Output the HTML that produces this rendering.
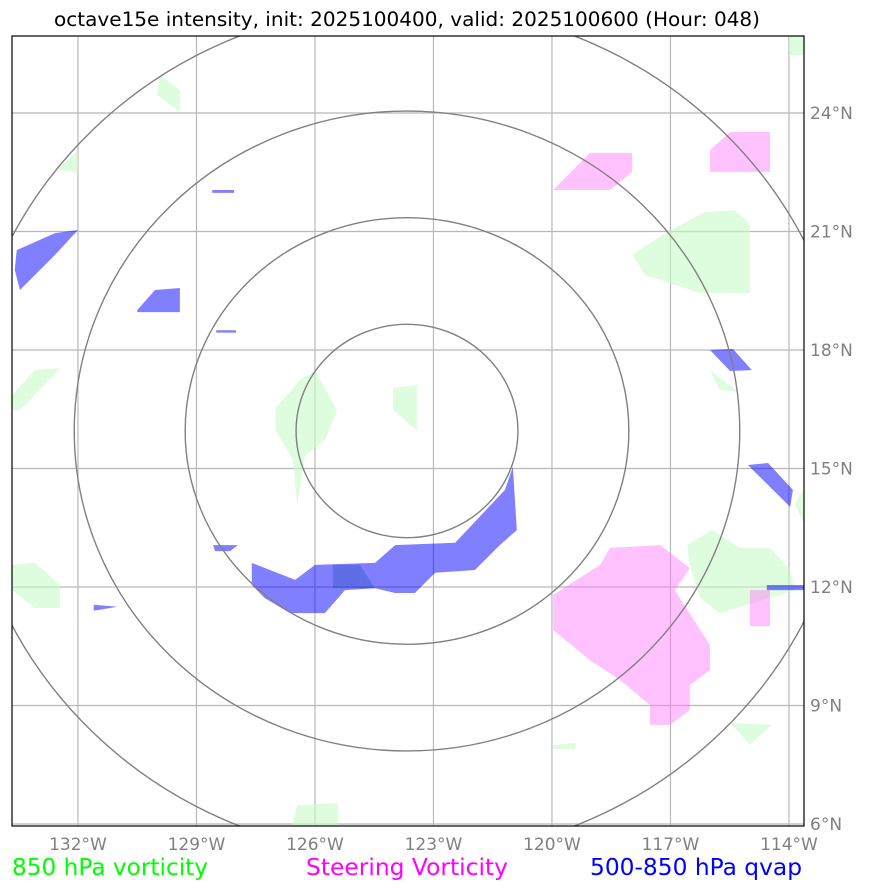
<!DOCTYPE html>
<html><head><meta charset="utf-8"><style>
body{margin:0;background:#fff;width:873px;height:891px;overflow:hidden;font-family:"Liberation Sans","DejaVu Sans",sans-serif}
svg{position:absolute;left:0;top:0}
</style></head><body>
<svg id="chart" width="873" height="891" xmlns="http://www.w3.org/2000/svg">
<text x="407" y="26" text-anchor="middle" font-size="19.5" font-family="DejaVu Sans, sans-serif" textLength="706" lengthAdjust="spacingAndGlyphs">octave15e intensity, init: 2025100400, valid: 2025100600 (Hour: 048)</text>
<defs><clipPath id="plotclip"><rect x="12" y="36" width="792" height="790"/></clipPath></defs>
<g id="grid"></g>
<g id="fields" clip-path="url(#plotclip)"></g>
<g id="rings" clip-path="url(#plotclip)"></g>
<rect x="12" y="36" width="792" height="790" fill="none" stroke="#000" stroke-width="1.2"/>
<g id="ticks"></g>
<text x="12" y="875" font-size="23" fill="#00ff00" font-family="DejaVu Sans, sans-serif" textLength="196" lengthAdjust="spacingAndGlyphs">850 hPa vorticity</text>
<text x="306" y="875" font-size="23" fill="#ff00ff" font-family="DejaVu Sans, sans-serif" textLength="202" lengthAdjust="spacingAndGlyphs">Steering Vorticity</text>
<text x="590" y="875" font-size="23" fill="#0000ff" font-family="DejaVu Sans, sans-serif" textLength="212" lengthAdjust="spacingAndGlyphs">500-850 hPa qvap</text>
</svg>
<script>
const lonTicks=[-132,-129,-126,-123,-120,-117,-114];
const latTicks=[6,9,12,15,18,21,24];
const ringRadii=[2.7,5.4,8.1,10.8];
const ringCenter=[-123.67,15.95];
const green=[
[[-127.0,16.53],[-126.38,17.24],[-126.0,17.49],[-125.44,16.48],[-125.75,15.72],[-126.25,15.34],[-126.45,14.08],[-126.56,15.22],[-127.0,15.97]],
[[-124.02,17.04],[-123.42,17.11],[-123.42,15.97],[-124.02,16.48]],
[[-117.97,20.41],[-117.14,20.96],[-116.13,21.49],[-115.37,21.54],[-114.99,21.17],[-114.99,19.44],[-116.25,19.44],[-117.64,19.9]],
[[-116.58,13.06],[-115.95,13.44],[-115.24,12.99],[-114.48,12.99],[-113.97,12.43],[-113.85,11.92],[-114.48,11.72],[-115.75,11.34],[-116.25,11.72],[-116.51,12.56]],
[[-133.67,16.86],[-133.09,17.49],[-132.45,17.54],[-133.47,16.48],[-133.67,16.48]],
[[-133.67,12.56],[-133.09,12.61],[-132.45,12.05],[-132.45,11.47],[-133.09,11.47],[-133.67,11.92]],
[[-129.92,24.96],[-129.42,24.58],[-129.42,24.03],[-130.0,24.46]],
[[-116.0,17.49],[-115.29,16.94],[-115.75,16.99]],
[[-126.45,6.48],[-125.42,6.53],[-125.42,5.95],[-126.58,5.95]],
[[-115.49,8.56],[-114.43,8.51],[-114.99,8.0]],
[[-114.0,25.95],[-113.62,25.95],[-113.62,25.47],[-114.0,25.47]],
[[-132.53,22.56],[-132.0,23.06],[-132.0,22.48]],
[[-119.97,8.0],[-119.4,8.05],[-119.4,7.9],[-119.97,7.9]],
[[-113.85,14.1],[-113.62,14.5],[-113.62,13.6]]
];
const pink=[
[[-119.97,11.8],[-118.78,12.56],[-118.53,12.99],[-117.26,13.06],[-116.51,12.48],[-116.89,11.92],[-116.0,10.53],[-116.0,9.9],[-116.51,9.52],[-116.51,8.89],[-117.01,8.51],[-117.52,8.51],[-117.52,9.01],[-118.28,9.65],[-119.04,10.15],[-119.97,10.91]],
[[-116.0,23.06],[-115.49,23.52],[-114.48,23.52],[-114.48,22.51],[-116.0,22.51]],
[[-119.97,22.05],[-119.04,22.99],[-117.97,22.99],[-117.97,22.51],[-118.53,22.05]],
[[-114.99,11.92],[-114.48,11.92],[-114.48,11.01],[-114.99,11.01]]
];
const blue=[
[[-127.6,12.61],[-126.5,12.18],[-126.0,12.56],[-124.48,12.61],[-123.97,13.06],[-122.45,13.12],[-121.19,14.46],[-120.99,15.04],[-120.89,13.44],[-121.32,13.06],[-121.95,12.43],[-122.96,12.36],[-123.47,11.85],[-123.97,11.85],[-124.48,11.97],[-125.24,11.92],[-125.75,11.34],[-126.63,11.34],[-127.27,11.72],[-127.6,12.05]],
[[-133.55,20.53],[-132.58,20.96],[-132.0,21.04],[-132.58,20.41],[-133.47,19.52],[-133.6,20.03]],
[[-130.5,19.01],[-130.05,19.52],[-129.42,19.57],[-129.42,18.96],[-130.5,18.96]],
[[-116.0,18.0],[-115.42,18.03],[-114.94,17.49],[-115.49,17.47]],
[[-115.04,15.09],[-114.53,15.14],[-113.9,14.46],[-113.97,14.03]],
[[-114.56,12.05],[-113.62,12.05],[-113.62,11.92],[-114.56,11.92]],
[[-128.58,13.06],[-127.95,13.06],[-128.15,12.91],[-128.53,12.91]],
[[-131.6,11.55],[-131.0,11.5],[-131.6,11.4]],
[[-128.5,18.5],[-128.0,18.5],[-128.0,18.44],[-128.5,18.44]],
[[-128.6,22.05],[-128.05,22.05],[-128.05,21.98],[-128.6,21.98]]
];
const blueCore=[
[[-125.55,12.56],[-124.86,12.56],[-124.48,11.97],[-125.55,11.97]]
];
const X=lon=>12+(lon+133.67)*39.5;
const Y=lat=>36+(25.95-lat)*39.5;
const NS='http://www.w3.org/2000/svg';
function mk(t,a,p){const e=document.createElementNS(NS,t);for(const k in a)e.setAttribute(k,a[k]);p.appendChild(e);return e;}
const grid=document.getElementById('grid'),ticks=document.getElementById('ticks');
lonTicks.forEach(v=>{
 const l=mk('line',{x1:X(v),x2:X(v),y1:36,y2:826,stroke:'#b8b8b8','stroke-width':1.2},grid);
 
 
 const t=mk('text',{x:X(v),y:850,'text-anchor':'middle','font-size':17,fill:'#808080','font-family':'DejaVu Sans, sans-serif'},ticks);
 t.textContent=Math.abs(v)+'°W';
 
 
});
latTicks.forEach(v=>{
 const l=mk('line',{x1:12,x2:804,y1:Y(v),y2:Y(v),stroke:'#b8b8b8','stroke-width':1.2},grid);
 
 
 const t=mk('text',{x:810,y:Y(v)+6,'font-size':17,fill:'#808080','font-family':'DejaVu Sans, sans-serif'},ticks);
 t.textContent=v+'°N';
 
 
});
const fields=document.getElementById('fields');
function draw(set,fill,name){set.forEach(poly=>{
 const p=mk('polygon',{points:poly.map(q=>X(q[0])+','+Y(q[1])).join(' '),fill:fill},fields);
 
 
});}
draw(green,'rgba(200,250,200,0.6)','vorticity-850-area');
draw(pink,'rgba(255,120,255,0.45)','steering-vorticity-area');
draw(blue,'rgba(0,0,255,0.5)','qvap-area');
draw(blueCore,'rgba(0,60,160,0.25)','qvap-overlap-area');
const rings=document.getElementById('rings');
const cosl=Math.cos(ringCenter[1]*Math.PI/180);
ringRadii.forEach(r=>{
 const e=mk('ellipse',{cx:X(ringCenter[0]),cy:Y(ringCenter[1]),rx:r/cosl*39.5,ry:r*39.5,fill:'none',stroke:'#808080','stroke-width':1.4},rings);
 
 
});
</script>
</body></html>
